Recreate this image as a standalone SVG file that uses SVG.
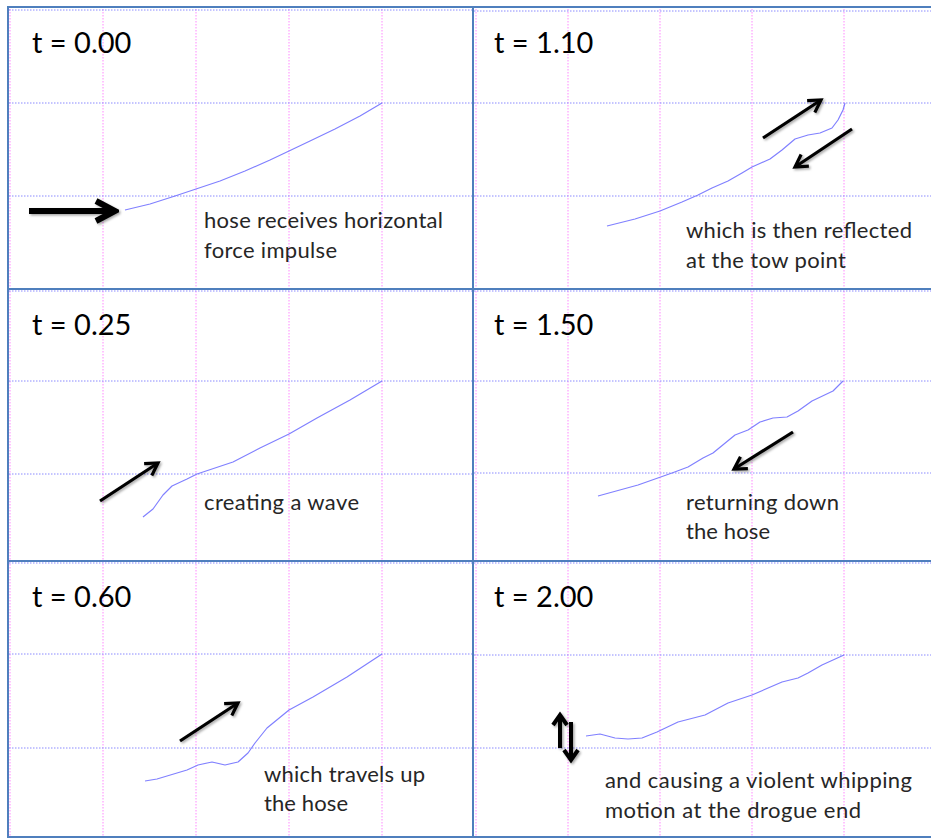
<svg xmlns="http://www.w3.org/2000/svg" width="931" height="838" viewBox="0 0 931 838">
<style>
.gh{stroke:#8a8aff;stroke-width:1;stroke-dasharray:1.5 1.5;fill:none}
.gv{stroke:#ff88ff;stroke-width:1;stroke-dasharray:1.5 1.5;fill:none}
.bd{stroke:#4f7fbd;stroke-width:2;fill:none}
.hose{stroke:#8080ff;stroke-width:1.2;fill:none;stroke-linejoin:round}
.ar{stroke:#000;stroke-width:3.2;fill:none;filter:url(#sh)}
.ttl{font-family:Lato,"Open Sans",sans-serif;font-size:29px;fill:#000}
.lbl{font-family:Lato,"Open Sans",sans-serif;font-size:22px;fill:#262626}
</style>
<defs>
<filter id="sh" filterUnits="userSpaceOnUse" x="0" y="0" width="931" height="838">
<feDropShadow dx="1.5" dy="1.5" stdDeviation="1.2" flood-color="#000" flood-opacity="0.35"/>
</filter>
<marker id="hs" markerUnits="userSpaceOnUse" viewBox="-16 -10 20 20" markerWidth="20" markerHeight="20" refX="0" refY="0" orient="auto">
<path d="M-12,-7 L0,0 L-12,7" fill="none" stroke="#000" stroke-width="3.2" stroke-linejoin="miter"/>
</marker>
<marker id="hd" markerUnits="userSpaceOnUse" viewBox="-14 -10 18 20" markerWidth="18" markerHeight="20" refX="0" refY="0" orient="auto">
<path d="M-10,-7 L0,0 L-10,7" fill="none" stroke="#000" stroke-width="4" stroke-linejoin="miter"/>
</marker>
<marker id="hb" markerUnits="userSpaceOnUse" viewBox="-26 -14 30 28" markerWidth="30" markerHeight="28" refX="0" refY="0" orient="auto">
<path d="M-19,-10 L0,0 L-19,10" fill="none" stroke="#000" stroke-width="6" stroke-linejoin="miter"/>
</marker>
</defs>
<rect x="0" y="0" width="931" height="838" fill="#fff"/>

<g id="grid">
<g id="grid-vertical">
<line class="gv" x1="10" y1="9" x2="10" y2="836"/>
<line class="gv" x1="103" y1="9" x2="103" y2="836"/>
<line class="gv" x1="196" y1="9" x2="196" y2="836"/>
<line class="gv" x1="289" y1="9" x2="289" y2="836"/>
<line class="gv" x1="382" y1="9" x2="382" y2="836"/>
<line class="gv" x1="476" y1="9" x2="476" y2="836"/>
<line class="gv" x1="568" y1="9" x2="568" y2="836"/>
<line class="gv" x1="660" y1="9" x2="660" y2="836"/>
<line class="gv" x1="752" y1="9" x2="752" y2="836"/>
<line class="gv" x1="844" y1="9" x2="844" y2="836"/>
</g>
<g id="grid-horizontal">
<line class="gh" x1="9" y1="10" x2="472" y2="10"/>
<line class="gh" x1="9" y1="103" x2="472" y2="103"/>
<line class="gh" x1="9" y1="196" x2="472" y2="196"/>
<line class="gh" x1="474" y1="11" x2="931" y2="11"/>
<line class="gh" x1="474" y1="103" x2="931" y2="103"/>
<line class="gh" x1="474" y1="196" x2="931" y2="196"/>
<line class="gh" x1="9" y1="291" x2="472" y2="291"/>
<line class="gh" x1="9" y1="381" x2="472" y2="381"/>
<line class="gh" x1="9" y1="474" x2="472" y2="474"/>
<line class="gh" x1="474" y1="291" x2="931" y2="291"/>
<line class="gh" x1="474" y1="381" x2="931" y2="381"/>
<line class="gh" x1="474" y1="473" x2="931" y2="473"/>
<line class="gh" x1="9" y1="563" x2="472" y2="563"/>
<line class="gh" x1="9" y1="654" x2="472" y2="654"/>
<line class="gh" x1="9" y1="748" x2="472" y2="748"/>
<line class="gh" x1="474" y1="563" x2="931" y2="563"/>
<line class="gh" x1="474" y1="655" x2="931" y2="655"/>
<line class="gh" x1="474" y1="748" x2="931" y2="748"/>
</g>
</g>

<g id="borders">
<line class="bd" x1="8" y1="6" x2="8" y2="838"/>
<line class="bd" x1="473" y1="6" x2="473" y2="838"/>
<line class="bd" x1="7" y1="7" x2="931" y2="7"/>
<line class="bd" x1="7" y1="289" x2="931" y2="289"/>
<line class="bd" x1="7" y1="561" x2="931" y2="561"/>
<line class="bd" x1="7" y1="837" x2="931" y2="837"/>
</g>

<g id="panel-t000">
<text class="ttl" x="32" y="53">t = 0.00</text>
<polyline class="hose" points="125,210 150,204 175,196 196,189 220,181 245,171 270,160 289,151 310,141 335,129 360,116 382,103"/>
<text class="lbl" x="204" y="228" textLength="239" lengthAdjust="spacing">hose receives horizontal</text>
<text class="lbl" x="204" y="258" textLength="133" lengthAdjust="spacing">force impulse</text>
</g>

<g id="panel-t110">
<text class="ttl" x="494" y="53">t = 1.10</text>
<polyline class="hose" points="607,226 635,219 660,211 682,202 698,195 712,188 728,181 742,173 752,167 770,159 782,150 795,139 808,135 820,133 832,128 838,120 843,110 845,103"/>
<text class="lbl" x="686" y="238" textLength="226" lengthAdjust="spacing">which is then reflected</text>
<text class="lbl" x="686" y="268" textLength="160" lengthAdjust="spacing">at the tow point</text>
</g>

<g id="panel-t025">
<text class="ttl" x="32" y="335">t = 0.25</text>
<polyline class="hose" points="143,517 153,509 163,495 172,486 187,479 197,474 233,462 260,448 289,434 317,418 350,400 382,381"/>
<text class="lbl" x="204" y="510" textLength="155" lengthAdjust="spacing">creating a wave</text>
</g>

<g id="panel-t150">
<text class="ttl" x="494" y="335">t = 1.50</text>
<polyline class="hose" points="598,496 638,485 672,473 688,467 703,458 713,453 735,435 748,430 760,422 773,418 787,417 798,411 812,401 833,391 843,381"/>
<text class="lbl" x="686" y="510" textLength="153" lengthAdjust="spacing">returning down</text>
<text class="lbl" x="686" y="539" textLength="84" lengthAdjust="spacing">the hose</text>
</g>

<g id="panel-t060">
<text class="ttl" x="32" y="607">t = 0.60</text>
<polyline class="hose" points="145,781 157,779 187,770 198,765 212,762 225,765 238,762 248,753 255,743 267,728 289,710 313,697 347,677 382,654"/>
<text class="lbl" x="264" y="782" textLength="161" lengthAdjust="spacing">which travels up</text>
<text class="lbl" x="264" y="811" textLength="84" lengthAdjust="spacing">the hose</text>
</g>

<g id="panel-t200">
<text class="ttl" x="494" y="607">t = 2.00</text>
<polyline class="hose" points="586,736 600,734 615,738 628,739 642,738 657,732 678,722 705,715 728,703 752,695 782,682 798,678 808,673 822,665 844,655"/>
<text class="lbl" x="605" y="788" textLength="307" lengthAdjust="spacing">and causing a violent whipping</text>
<text class="lbl" x="605" y="818" textLength="256" lengthAdjust="spacing">motion at the drogue end</text>
</g>

<g id="arrows">
<line class="ar" x1="29" y1="211" x2="115" y2="211" style="stroke-width:6" marker-end="url(#hb)"/>
<line class="ar" x1="763" y1="138" x2="821" y2="100" marker-end="url(#hs)"/>
<line class="ar" x1="852" y1="129" x2="795" y2="167" marker-end="url(#hs)"/>
<line class="ar" x1="100" y1="501" x2="158" y2="463" marker-end="url(#hs)"/>
<line class="ar" x1="793" y1="432" x2="734" y2="469" marker-end="url(#hs)"/>
<line class="ar" x1="180" y1="741" x2="238" y2="703" marker-end="url(#hs)"/>
<line class="ar" x1="560" y1="748" x2="560" y2="715" style="stroke-width:4" marker-end="url(#hd)"/>
<line class="ar" x1="571" y1="722" x2="571" y2="760" style="stroke-width:4" marker-end="url(#hd)"/>
</g>
</svg>
